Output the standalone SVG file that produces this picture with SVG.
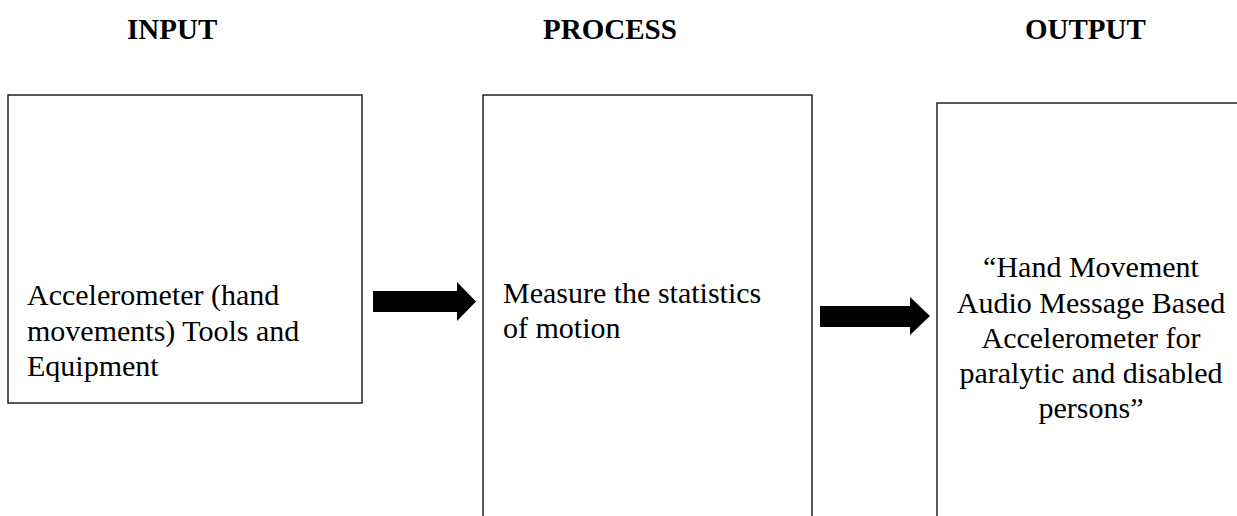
<svg xmlns="http://www.w3.org/2000/svg" width="1237" height="516" viewBox="0 0 1237 516">
<style>
.head{font-family:"Liberation Serif","Times New Roman",serif;font-weight:bold;font-size:29px;fill:#000}
.body{font-family:"Liberation Serif","Times New Roman",serif;font-size:30px;fill:#000}
.box{fill:#fff;stroke:#222;stroke-width:1.5}
.arrow{fill:#000}
</style>
<rect width="1237" height="516" fill="#fff"/>
<g id="headers">
<text class="head" x="127" y="39">INPUT</text>
<text class="head" x="543" y="39">PROCESS</text>
<text class="head" x="1025" y="39">OUTPUT</text>
</g>
<g id="input">
<rect class="box" x="8" y="95" width="354" height="308"/>
<text class="body" x="27" y="305">Accelerometer (hand</text>
<text class="body" x="27" y="341">movements) Tools and</text>
<text class="body" x="27" y="376">Equipment</text>
</g>
<g id="process">
<rect class="box" x="483" y="95" width="329" height="440"/>
<text class="body" x="503" y="303">Measure the statistics</text>
<text class="body" x="503" y="338">of motion</text>
</g>
<g id="output">
<rect class="box" x="937" y="103" width="320" height="440"/>
<text class="body" text-anchor="middle" x="1091" y="277">“Hand Movement</text>
<text class="body" text-anchor="middle" x="1091" y="313">Audio Message Based</text>
<text class="body" text-anchor="middle" x="1091" y="348">Accelerometer for</text>
<text class="body" text-anchor="middle" x="1091" y="383">paralytic and disabled</text>
<text class="body" text-anchor="middle" x="1091" y="418">persons”</text>
</g>
<g id="connectors">
<polygon class="arrow" points="373,291 457,291 457,282 476,301.5 457,321 457,312 373,312"/>
<polygon class="arrow" points="820,306 910,306 910,297 930,316 910,335 910,327 820,327"/>
</g>
</svg>
